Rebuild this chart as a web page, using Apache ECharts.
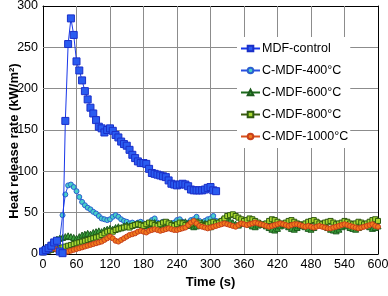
<!DOCTYPE html>
<html>
<head>
<meta charset="utf-8">
<script src="https://cdn.jsdelivr.net/npm/echarts@6/dist/echarts.min.js"></script>
<style>
  html, body { margin: 0; padding: 0; background: #fff; }
  #chart { width: 388px; height: 296px; }
</style>
</head>
<body>
<div id="chart"></div>
<script>
// sampling step of the cone data (s)
var timeStep = 5;

var seriesNames = ['MDF-control', 'C-MDF-400°C', 'C-MDF-600°C', 'C-MDF-800°C', 'C-MDF-1000°C'];

// heat release rate, kW/m2, one value every 5 s starting at 0 s
var mdfControl = [3, 5, 7, 10, 14, 16, 3, 1, 161, 254, 285, 265, 233, 222, 210, 197, 187, 177, 170, 162,
	154, 152, 147, 150, 152, 149, 144, 141, 136, 133, 131, 126, 120, 116, 112, 110, 110, 109, 103, 98,
	97, 96, 95, 94, 93, 89, 85, 84, 83, 84, 85, 84, 82, 78, 77, 77, 77, 77, 78, 80,
	81, 77, 76];

var cmdf400 = [5, 6, 8, 12, 15, 17, 18, 47, 72, 83, 84, 81, 76, 69, 63, 59, 56, 54, 51, 49,
	46, 43, 42, 41, 42, 45, 47, 45, 42, 40, 39, 37, 38, 36, 38, 39, 37, 36, 38, 41,
	43, 38, 37, 39, 37, 36, 35, 38, 41, 42, 39, 37, 38, 41, 42, 45, 40, 37, 40, 42,
	43, 46, 40];

var cmdf600 = [6, 8, 10, 13, 16, 18, 19, 20, 21, 22, 21, 20,
	19, 21, 23, 24, 25, 24, 26, 27, 28, 27, 29, 30,
	31, 30, 32, 33, 32, 34, 35, 34, 35, 36, 37, 36,
	35, 34, 36, 37, 38, 36, 35, 34, 36, 38, 37, 35,
	34, 36, 38, 39, 37, 35, 33, 34, 36, 38, 37, 35,
	33, 35, 37, 39, 41, 43, 42, 40, 38, 36, 35, 37,
	39, 38, 36, 34, 33, 35, 37, 36, 34, 32, 30, 29,
	31, 34, 36, 35, 33, 31, 30, 32, 34, 35, 33, 31,
	30, 32, 35, 37, 36, 34, 32, 30, 29, 28, 30, 33,
	35, 34, 32, 31, 30, 32, 34, 36, 35, 33, 31, 32,
	34];

var cmdf800 = [2, 3, 4, 5, 6, 7, 7, 8, 9, 10, 11, 12,
	13, 14, 15, 16, 17, 18, 19, 20, 21, 23, 25, 27,
	28, 27, 29, 30, 31, 32, 33, 32, 34, 35, 36, 35,
	34, 36, 38, 37, 35, 34, 36, 38, 39, 37, 35, 34,
	36, 38, 37, 35, 34, 36, 38, 39, 37, 35, 34, 36,
	38, 39, 37, 38, 40, 43, 46, 47, 48, 46, 44, 42,
	40, 41, 43, 42, 40, 38, 36, 35, 37, 40, 42, 41,
	39, 37, 36, 38, 40, 41, 39, 37, 36, 35, 37, 39,
	40, 41, 39, 37, 36, 38, 39, 40, 38, 36, 37, 38,
	40, 39, 37, 36, 37, 39, 38, 36, 37, 39, 41, 42,
	40];

var cmdf1000 = [2, 4, 5, 6, 7, 5, 3, 1, 2, 3, 4, 5,
	6, 7, 8, 9, 10, 11, 12, 13, 14, 15, 17, 19,
	21, 19, 16, 15, 17, 19, 21, 23, 24, 25, 27, 28,
	27, 26, 28, 29, 30, 29, 28, 29, 30, 31, 30, 29,
	29, 30, 31, 32, 35, 38, 40, 37, 34, 33, 32, 31,
	32, 33, 34, 35, 36, 37, 36, 35, 34, 33, 35, 37,
	36, 35, 36, 37, 38, 37, 36, 35, 34, 33, 34, 35,
	36, 37, 36, 35, 34, 35, 36, 36, 35, 34, 33, 34,
	33, 32, 33, 34, 33, 32, 31, 31, 32, 33, 34, 35,
	36, 35, 34, 33, 32, 31, 32, 33, 34, 35, 36, 34,
	33];

var xTicks = { min: 0, max: 600, interval: 60 };
var yTicks = { min: 0, max: 300, interval: 50 };
// inner grid line positions
var xGridValues = [60, 120, 180, 240, 300, 360, 420, 480, 540];
var yGridValues = [50, 100, 150, 200, 250];

var xTitle = 'Time (s)';
var yTitle = 'Heat release rate (kW/m²)';

function toPoints(values)
{
	var pts = [];
	for (var i = 0; i < values.length; i++)
		pts.push([i * timeStep, values[i]]);
	return pts;
}

function lineSeries(name, values, lineColor, symbol, size, fill, border, z)
{
	return {
		name: name,
		type: 'line',
		data: toPoints(values),
		symbol: symbol,
		symbolSize: size,
		showAllSymbol: true,
		z: z,
		lineStyle: { color: lineColor, width: 1 },
		itemStyle: { color: fill, borderColor: border, borderWidth: 1 },
		emphasis: { disabled: true }
	};
}

var chart = echarts.init(document.getElementById('chart'));

var font = 'Arial, "Liberation Sans", sans-serif';
var narrow = '"Liberation Sans Narrow", "Arial Narrow", Arial, "Liberation Sans", sans-serif';
var gridColor = '#8c8c8c';

// frame lines on top and right come from two mirror axes without labels
function frameAxis(pos, ticks)
{
	return {
		type: 'value', position: pos,
		min: ticks.min, max: ticks.max, interval: ticks.interval,
		axisLine: { show: true, onZero: false, lineStyle: { color: '#000', width: 1 } },
		axisTick: { show: false }, axisLabel: { show: false }, splitLine: { show: false }
	};
}

// gridlines as a mark line layer, placed by the axes' own scales
var gridMarks = [];
xGridValues.forEach(function(v) { gridMarks.push({ xAxis: v }); });
yGridValues.forEach(function(v) { gridMarks.push({ yAxis: v }); });

var gridSeries = {
	name: 'grid',
	type: 'line',
	data: [],
	z: 1,
	silent: true,
	markLine: {
		z: 1,
		silent: true,
		symbol: 'none',
		label: { show: false },
		lineStyle: { color: gridColor, width: 1, type: 'solid' },
		emphasis: { disabled: true },
		data: gridMarks
	}
};

var options =
{
	animation: false,
	backgroundColor: '#fff',
	textStyle: { fontFamily: font },
	grid: { left: 43, right: 10, top: 6, bottom: 42, containLabel: false, outerBoundsMode: 'none' },
	legend: {
		data: seriesNames,
		orient: 'vertical',
		left: 237, top: 37,
		z: 20,
		itemGap: 9,
		itemWidth: 19, itemHeight: 7,
		backgroundColor: '#fff',
		padding: [5, 2, 5, 3],
		textStyle: { fontFamily: narrow, fontSize: 12.5, color: '#000', padding: [0, 0, 0, -3] }
	},
	// y title as plain rotated text, so it sits where the original has it
	graphic: [{
		type: 'text',
		x: 14, y: 141,
		rotation: Math.PI / 2,
		silent: true,
		style: {
			text: yTitle,
			fontFamily: font, fontSize: 13, fontWeight: 'bold', fill: '#000',
			align: 'center', verticalAlign: 'middle'
		}
	}],
	xAxis: [{
		type: 'value',
		min: xTicks.min, max: xTicks.max, interval: xTicks.interval,
		name: xTitle,
		nameLocation: 'middle',
		nameGap: 20,
		nameTextStyle: { fontFamily: font, fontSize: 13, fontWeight: 'bold', color: '#000' },
		axisLine: { onZero: false, lineStyle: { color: '#000', width: 1 } },
		axisTick: { show: false },
		axisLabel: { fontFamily: narrow, fontSize: 12.5, color: '#000', margin: 4 },
		splitLine: { show: false }
	}, frameAxis('top', xTicks)],
	yAxis: [{
		type: 'value',
		min: yTicks.min, max: yTicks.max, interval: yTicks.interval,
		axisLine: { show: true, onZero: false, lineStyle: { color: '#000', width: 1 } },
		axisTick: { show: false },
		axisLabel: { fontFamily: narrow, fontSize: 12.5, color: '#000', margin: 5 },
		splitLine: { show: false }
	}, frameAxis('right', yTicks)],
	series: [
		gridSeries,
		lineSeries(seriesNames[1], cmdf400, '#2a4fe0', 'circle', 5, '#48d0c8', '#2a5fd0', 2),
		lineSeries(seriesNames[2], cmdf600, '#1c6a1c', 'triangle', 6, '#3aa03a', '#1c5a1c', 3),
		lineSeries(seriesNames[3], cmdf800, '#3a5a10', 'rect', 5, '#a8d832', '#2f5a10', 4),
		lineSeries(seriesNames[4], cmdf1000, '#d8501c', 'circle', 5, '#f27a1c', '#c8401a', 5),
		lineSeries(seriesNames[0], mdfControl, '#1836e8', 'rect', 7, '#2a5cf0', '#1a2fc8', 6)
	]
};

chart.setOption(options);
</script>
</body>
</html>
